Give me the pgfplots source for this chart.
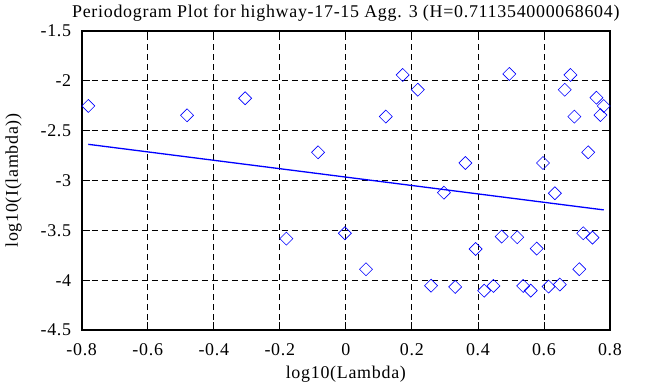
\documentclass[border=0pt]{standalone}
\usepackage{fontspec}
\setmainfont[LetterSpace=4]{Liberation Serif}
\usepackage{pgfplots}
\pgfplotsset{compat=1.18}
\definecolor{pblue}{RGB}{0,0,255}
\begin{document}
\begin{tikzpicture}
\begin{axis}[
  scale only axis,
  width=528.3bp, height=299bp,
  xmin=-0.8, xmax=0.8, ymin=-4.5, ymax=-1.5,
  xtick={-0.8,-0.6,-0.4,-0.2,0,0.2,0.4,0.6,0.8},
  ytick={-4.5,-4,-3.5,-3,-2.5,-2,-1.5},
  xticklabels={-0.8,-0.6,-0.4,-0.2,0,0.2,0.4,0.6,0.8},
  yticklabels={-4.5,-4,-3.5,-3,-2.5,-2,-1.5},
  tick align=inside, tick pos=both,
  major tick length=8bp,
  axis line style={line width=1.6bp, black},
  every tick/.style={black, line width=0.8bp},
  grid=major,
  major grid style={black, line width=0.8bp, dash pattern=on 6bp off 4bp},
  ticklabel style={font=\fontsize{18}{20}\selectfont},
  xticklabel style={anchor=base, yshift=-25bp},
  yticklabel style={anchor=east, xshift=-7bp},
  /pgf/number format/assume math mode=true,
  title={Periodogram Plot for highway-17-15 Agg. 3 (H=0.711354000068604)},
  title style={font=\fontsize{18}{20}\selectfont, at={(0.5,1)}, anchor=base, yshift=8bp},
  xlabel={log10(Lambda)},
  xlabel style={font=\fontsize{18}{20}\selectfont, at={(axis description cs:0.5,0)}, anchor=base, yshift=-48bp},
  ylabel={log10(I(lambda))},
  ylabel style={font=\fontsize{18}{20}\selectfont, at={(axis description cs:0,0.5)}, anchor=center, yshift=68bp},
  clip=false,
]
\addplot[only marks, mark=diamond, mark size=6.5bp, mark options={xscale=1.333, pblue, line width=0.6bp, fill=none}] coordinates {
(-0.780,-2.252) (-0.481,-2.346) (-0.305,-2.175) (-0.084,-2.717)
(0.172,-1.941) (0.218,-2.089) (0.121,-2.359) (0.495,-1.931)
(0.680,-1.941) (0.663,-2.089) (0.759,-2.169) (0.781,-2.252)
(0.771,-2.343) (0.692,-2.359) (0.734,-2.717) (0.362,-2.824)
(0.597,-2.824) (0.297,-3.122) (0.633,-3.128) (-0.003,-3.529)
(-0.180,-3.583) (0.061,-3.890) (0.258,-4.055) (0.331,-4.068)
(0.393,-3.687) (0.419,-4.105) (0.447,-4.058) (0.472,-3.563)
(0.519,-3.569) (0.537,-4.058) (0.560,-4.105) (0.578,-3.683)
(0.614,-4.064) (0.648,-4.044) (0.707,-3.890) (0.719,-3.529)
(0.747,-3.573)
};
\addplot[pblue, line width=1.3bp] coordinates {(-0.780,-2.637) (0.781,-3.295)};
\end{axis}
\pgfresetboundingbox
\path ([shift={(-81.7bp,-57bp)}]current axis.south west) rectangle ([shift={(58bp,31bp)}]current axis.north east);
\end{tikzpicture}
\end{document}
